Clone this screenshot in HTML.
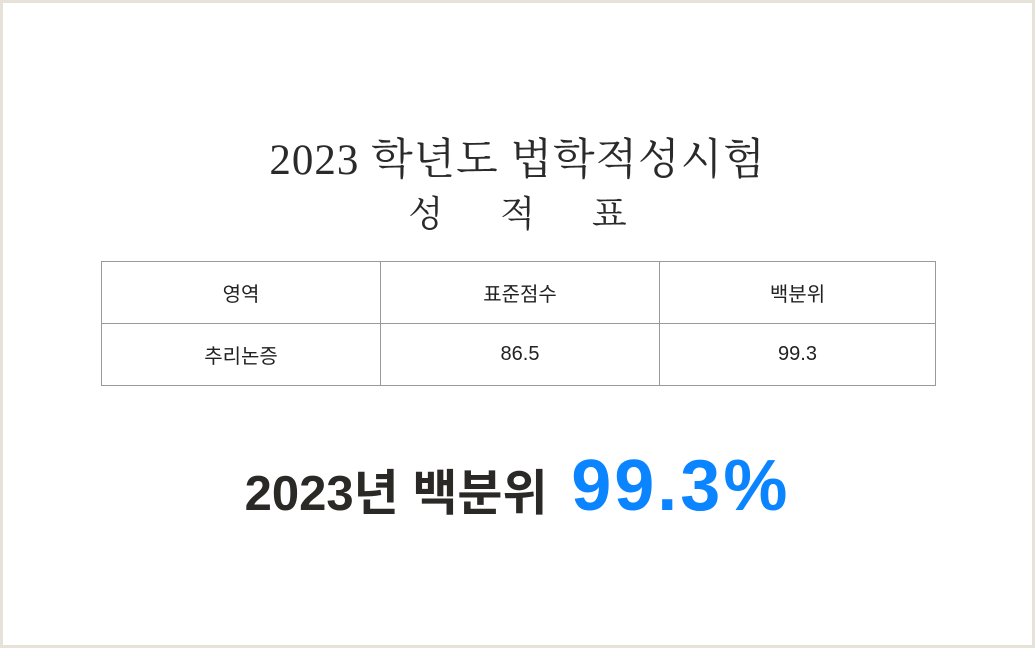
<!DOCTYPE html>
<html><head><meta charset="utf-8"><style>
body{margin:0;width:1035px;height:648px;background:#fff;overflow:hidden}
.frame{position:absolute;left:0;top:0;width:1029px;height:642px;border:3px solid #e7e2d8;background:#fff}
.t1{position:absolute;left:0;width:1035px;text-align:center;font-family:"Liberation Serif","Noto Serif CJK SC",serif;color:#2a2a2a;white-space:nowrap}
table{position:absolute;left:101px;top:261px;width:835px;border-collapse:collapse;font-family:"Liberation Sans","Noto Sans CJK KR",sans-serif;font-size:20px;color:#222}
td{border:1px solid #9a9a9a;text-align:center;height:61px;padding:0}
.big{position:absolute;left:0;width:1035px;top:445px;text-align:center;font-family:"Liberation Sans","Noto Sans CJK KR",sans-serif;font-weight:bold;color:#2b2926;font-size:49px;white-space:nowrap}
.big span{color:#0a84ff;font-size:72px;margin-left:10px;letter-spacing:3px}
</style></head><body>
<div class="frame"></div>
<div class="t1" style="top:126px;font-size:43px;letter-spacing:1px">2023 학년도 법학적성시험</div>
<div class="t1" style="top:186px;font-size:36px;word-spacing:48px">성 적 표</div>
<table>
<tr><td style="width:278px">영역</td><td style="width:278px">표준점수</td><td>백분위</td></tr>
<tr><td>추리논증</td><td>86.5</td><td>99.3</td></tr>
</table>
<div class="big">2023년 백분위 <span>99.3%</span></div>
</body></html>
